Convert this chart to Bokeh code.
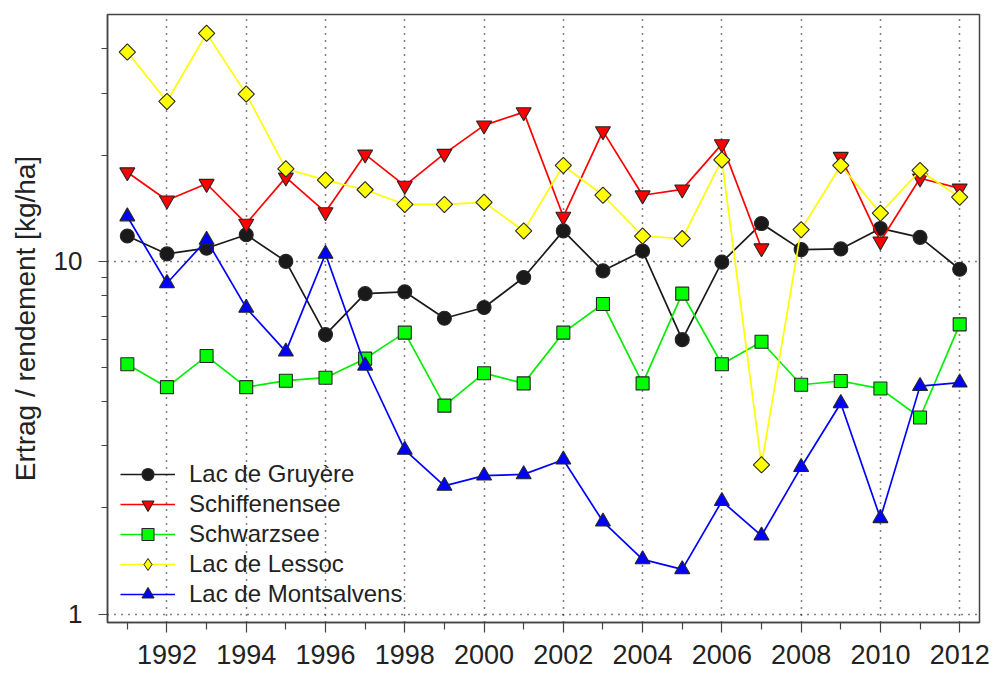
import math
from bokeh.plotting import figure
from bokeh.models import (Range1d, FixedTicker, PrintfTickFormatter, Legend, LegendItem)
from bokeh.embed import file_html
from bokeh.resources import INLINE

nan = float("nan")

years = list(range(1991, 2013))
gruyere = [11.8, 10.5, 10.9, 11.9, 10.0, 6.2, 8.1, 8.2, 6.9, 7.4, 9.0, 12.2,
           9.4, 10.7, 6.0, 9.95, 12.8, 10.8, 10.85, 12.4, 11.7, 9.5]
schiffenensee = [17.9, 14.9, 16.6, 12.8, 17.3, 13.8, 20.1, 16.4, 20.2, 24.3, 26.5, 13.4,
                 23.4, 15.4, 16.0, 21.5, 10.9, nan, 19.8, 11.4, 17.2, 16.1]
schwarzsee = [5.11, 4.40, 5.39, 4.40, 4.59, 4.68, 5.30, 6.28, 3.90, 4.82, 4.51, 6.28,
              7.57, 4.51, 8.1, 5.11, 5.92, 4.47, 4.58, 4.36, 3.61, 6.63]
lessoc = [39.2, 28.4, 44.3, 29.8, 18.3, 17.0, 15.96, 14.5, 14.5, 14.7, 12.2, 18.7,
          15.4, 11.8, 11.6, 19.4, 2.65, 12.3, 18.7, 13.7, 18.1, 15.2]
montsalvens = [13.4, 8.67, 11.5, 7.38, 5.55, 10.5, 5.06, 2.92, 2.31, 2.47, 2.49, 2.74,
               1.83, 1.43, 1.34, 2.09, 1.67, 2.61, 3.96, 1.87, 4.43, 4.53]

names = ["Lac de Gruyère", "Schiffenensee", "Schwarzsee", "Lac de Lessoc", "Lac de Montsalvens"]
x_major_ticks = list(range(1992, 2013, 2))
x_minor_ticks = list(range(1991, 2013, 2))
y_major_ticks = [1, 10]
y_minor_ticks = [2, 3, 4, 5, 6, 7, 8, 9, 20, 30, 40]
y_label = "Ertrag / rendement [kg/ha]"

FONT = "Liberation Sans"
TXT = "#222222"
AX = "#444444"

p = figure(width=995, height=676, output_backend="svg", toolbar_location=None,
           y_axis_type="log", x_range=Range1d(1990.5, 2012.5),
           y_range=Range1d(0.947, 50.1), title=None,
           min_border_left=107, min_border_right=16, min_border_top=14, min_border_bottom=54)

p.background_fill_color = "white"
p.border_fill_color = "white"
p.outline_line_color = AX
p.outline_line_width = 1.5

# axes
p.xaxis.ticker = FixedTicker(ticks=x_major_ticks, minor_ticks=x_minor_ticks)
p.yaxis.ticker = FixedTicker(ticks=y_major_ticks, minor_ticks=y_minor_ticks)
p.xaxis.formatter = PrintfTickFormatter(format="%d")
p.yaxis.formatter = PrintfTickFormatter(format="%d")

for ax in (p.xaxis, p.yaxis):
    ax.axis_line_color = AX
    ax.axis_line_width = 1.5
    ax.major_tick_line_color = AX
    ax.minor_tick_line_color = AX
    ax.major_tick_line_width = 1.2
    ax.minor_tick_line_width = 1.2
    ax.major_tick_in = 0
    ax.minor_tick_in = 0
    ax.major_label_text_font = FONT
    ax.major_label_text_color = TXT

p.xaxis.major_tick_out = 10
p.xaxis.minor_tick_out = 7
p.xaxis.major_label_text_font_size = "27px"
p.xaxis.major_label_standoff = 12

p.yaxis.major_tick_out = 9
p.yaxis.minor_tick_out = 6
p.yaxis.major_label_text_font_size = "26px"
p.yaxis.major_label_standoff = 16
p.yaxis.major_label_orientation = "horizontal"
p.yaxis.axis_label = y_label
p.yaxis.axis_label_text_font = FONT
p.yaxis.axis_label_text_font_size = "28px"
p.yaxis.axis_label_text_font_style = "normal"
p.yaxis.axis_label_text_color = TXT
p.yaxis.axis_label_standoff = 10

# grids (dotted)
p.xgrid.ticker = FixedTicker(ticks=x_major_ticks)
p.ygrid.ticker = FixedTicker(ticks=y_major_ticks)
for g in (p.xgrid, p.ygrid):
    g.grid_line_color = "#000000"
    g.grid_line_width = 1.5
    g.grid_line_dash = "1 6"
    g.minor_grid_line_color = None

series = [
    (gruyere, "#1a1a1a", "#1a1a1a", "circle", 14, 0.0),
    (schiffenensee, "#ff0000", "#ff0000", "inverted_triangle", 15, 0.0),
    (schwarzsee, "#00ee00", "#00ff00", "square", 13, 0.0),
    (lessoc, "#ffff00", "#ffff00", "square", 11.5, math.pi / 4),
    (montsalvens, "#0000ff", "#0000ff", "triangle", 15, 0.0),
]
legend_markers = ["circle", "inverted_triangle", "square", "diamond", "triangle"]

items = []
for (vals, lcol, fcol, marker, size, ang), name, lmark in zip(series, names, legend_markers):
    lr = p.line(years, vals, line_color=lcol, line_width=1.7)
    sr = p.scatter(years, vals, marker=marker, size=size, angle=ang,
                   fill_color=fcol, line_color="#262626", line_width=1.1)
    key = sr
    if lmark != marker:
        # hidden renderer that only supplies the diamond key to the legend
        # (Bokeh draws legend markers unrotated)
        key = p.scatter(years, vals, marker=lmark, size=14, visible=False,
                        fill_color=fcol, line_color="#262626", line_width=1.0)
    items.append(LegendItem(label=name, renderers=[lr, key]))

legend = Legend(items=items, location=(13, 13), click_policy="none")
legend.label_text_font = FONT
legend.label_text_font_size = "24px"
legend.label_text_color = TXT
legend.glyph_width = 55
legend.glyph_height = 30
legend.label_height = 30
legend.label_standoff = 14
legend.spacing = 0
legend.padding = 0
legend.margin = 0
legend.border_line_alpha = 0
legend.background_fill_alpha = 0
p.add_layout(legend, "center")

open("out.html", "w").write(file_html(p, INLINE))
